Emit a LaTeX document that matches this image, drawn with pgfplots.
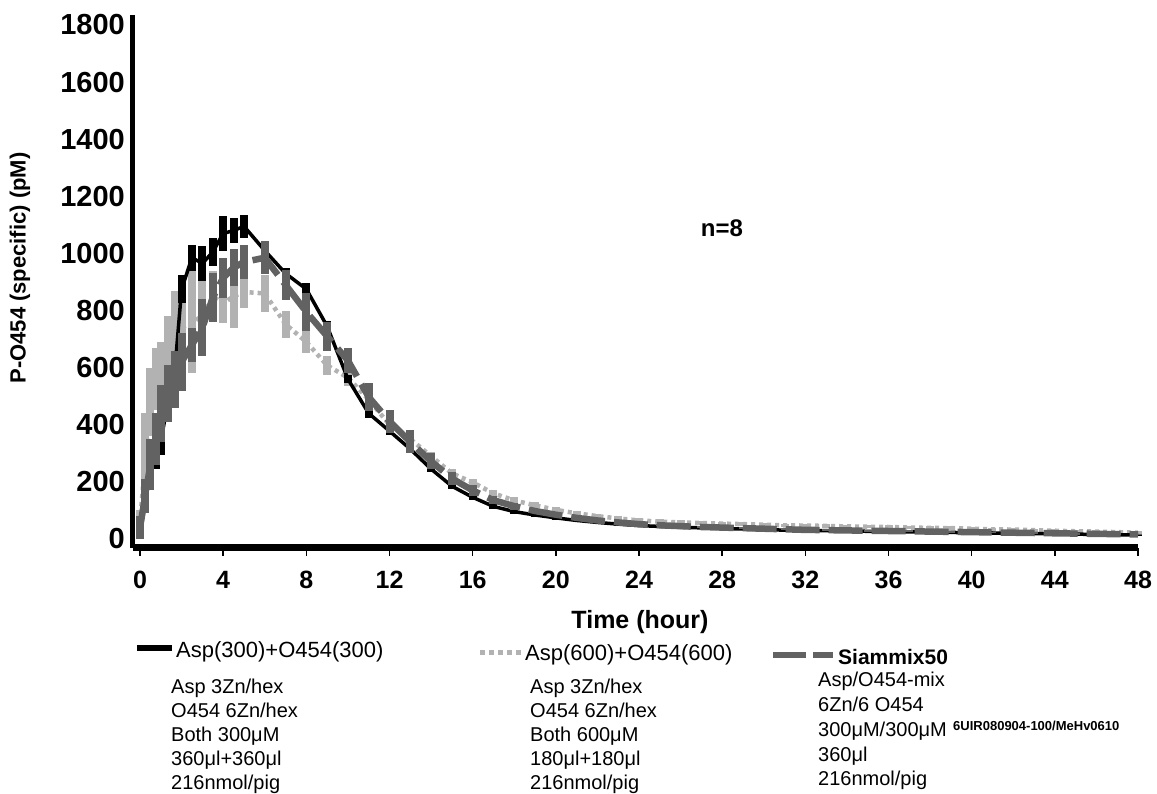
\documentclass[border=0pt]{standalone}
\usepackage{pgfplots}
\pgfplotsset{compat=1.18}
\usepackage{pgfplotstable}
\usepackage{fontspec}
\setmainfont{Liberation Sans}
\definecolor{lgray}{RGB}{178,178,178}
\definecolor{dgray}{RGB}{98,98,98}

\pgfplotstableread{
t y e
0 15 10
0.25 130 20
0.5 230 35
0.75 290 45
1 340 45
1.33 475 35
1.67 585 40
2 875 50
2.5 985 45
3 965 60
3.5 1005 50
4 1070 60
4.5 1080 45
5 1095 40
6 1010 30
7 930 20
8 875 20
9 745 20
10 560 15
11 440 15
12 378 15
13 315 15
14 245 12
15 185 10
16 146 10
17 114 8
18 96 8
19 84 6
20 74 6
21 65 5
22 58 5
23 52 5
24 47 5
25 44 4
26 41 4
27 39 4
28 37 4
29 35 4
30 33 4
31 31 3
32 30 3
33 29 3
34 28 3
35 27 3
36 26 3
37 25 3
38 24 3
39 23 3
40 22 3
41 21 3
42 20 3
43 19 3
44 18 3
45 17 3
46 16 3
47 15 3
48 14 3
}\blackdata

\pgfplotstableread{
t y e
0 60 40
0.25 270 170
0.5 480 120
0.75 560 110
1 590 100
1.33 670 110
1.67 765 105
2 740 120
2.5 760 180
3 780 140
3.5 850 90
4 825 70
4.5 850 110
5 865 55
6 860 65
7 752 48
8 690 40
9 608 32
10 565 30
11 488 42
12 400 20
13 350 18
14 290 15
15 230 14
16 198 12
17 160 12
18 135 12
19 118 10
20 102 10
21 90 9
22 80 9
23 72 8
24 65 8
25 61 8
26 58 7
27 56 7
28 54 7
29 52 7
30 50 7
31 48 6
32 47 6
33 46 6
34 44 6
35 43 6
36 42 6
37 40 6
38 39 6
39 38 6
40 36 5
41 34 5
42 33 5
43 31 5
44 29 5
45 27 5
46 26 5
47 24 5
48 22 5
}\lightdata

\pgfplotstableread{
t y e
0 40 40
0.25 150 60
0.5 260 90
0.75 350 90
1 440 100
1.33 510 100
1.67 560 100
2 620 100
2.5 680 60
3 740 100
3.5 845 85
4 915 70
4.5 950 65
5 970 58
6 985 58
7 890 52
8 795 65
9 710 50
10 625 45
11 497 48
12 412 40
13 340 40
14 272 28
15 212 22
16 170 18
17 136 15
18 115 12
19 98 8
20 85 6
21 74 5
22 65 4
23 58 4
24 52 4
25 48 3
26 45 3
27 42 3
28 40 3
29 38 3
30 36 3
31 34 3
32 32 3
33 31 3
34 30 3
35 29 3
36 28 3
37 27 3
38 26 3
39 25 3
40 24 3
41 23 3
42 22 3
43 21 3
44 20 3
45 19 3
46 18 3
47 17 3
48 16 3
}\darkdata

\begin{document}
\begin{tikzpicture}
\useasboundingbox (-133pt,-246pt) rectangle (1024pt,548pt);
\begin{axis}[
  at={(0pt,0pt)}, anchor=south west,
  scale only axis, width=1005pt, height=533pt,
  xmin=-0.337, xmax=48, ymin=-31.5, ymax=1835,
  axis x line*=bottom, axis y line*=left,
  x axis line style={line width=7pt, line cap=butt},
  y axis line style={line width=5pt, line cap=butt},
  xtick={0,4,...,48}, ytick={0,200,...,1800},
  tick align=outside, major tick length=8pt,
  xtick style={line width=1.5pt, black},
  ytick style={draw=none},
  xticklabel style={font=\fontsize{25}{30}\selectfont\bfseries, inner sep=0pt, yshift=-15pt},
  yticklabel style={font=\fontsize{29}{34}\selectfont\bfseries, inner sep=0pt},
  /pgf/number format/assume math mode=true,
  /pgf/number format/1000 sep={},
  clip=false,
]
\addplot[lgray, line width=4.5pt, dash pattern=on 4pt off 4pt,
  error bars/.cd, y dir=both, y explicit, error mark=none,
  error bar style={solid, line width=8pt, lgray}]
  table[x=t, y=y, y error=e] {\lightdata};
\addplot[black, line width=3.5pt,
  error bars/.cd, y dir=both, y explicit, error mark=none,
  error bar style={solid, line width=8pt, black}]
  table[x=t, y=y, y error=e] {\blackdata};
\addplot[dgray, line width=6.5pt, dash pattern=on 34pt off 9pt,
  error bars/.cd, y dir=both, y explicit, error mark=none,
  error bar style={solid, line width=8pt, dgray}]
  table[x=t, y=y, y error=e] {\darkdata};
\end{axis}

% axis labels and annotation
\node[rotate=90, font=\fontsize{22}{26}\selectfont\bfseries] at (-113pt,280pt) {P-O454 (specific) (pM)};
\node[font=\fontsize{25}{30}\selectfont\bfseries] at (507pt,-74pt) {Time (hour)};
\node[font=\fontsize{24}{28}\selectfont\bfseries] at (589pt,320pt) {n=8};

% legend
\draw[black, line width=6pt] (4pt,-100pt) -- (39pt,-100pt);
\node[anchor=base west, inner sep=0pt, font=\fontsize{22}{26}\selectfont] at (43pt,-110pt) {Asp(300)+O454(300)};
\draw[lgray, line width=5pt, dash pattern=on 5pt off 4pt] (347pt,-105pt) -- (389pt,-105pt);
\node[anchor=base west, inner sep=0pt, font=\fontsize{22}{26}\selectfont] at (392pt,-113pt) {Asp(600)+O454(600)};
\draw[dgray, line width=6pt, dash pattern=on 33pt off 7pt] (640pt,-107pt) -- (700pt,-107pt);
\node[anchor=base west, inner sep=0pt, font=\fontsize{21}{25}\selectfont\bfseries] at (705pt,-117pt) {Siammix50};

\begin{scope}[every node/.style={anchor=base west, inner sep=0pt, font=\fontsize{20}{24}\selectfont}]
\node at (38pt,-146pt) {Asp 3Zn/hex};
\node at (38pt,-170pt) {O454 6Zn/hex};
\node at (38pt,-194pt) {Both 300μM};
\node at (38pt,-218pt) {360μl+360μl};
\node at (38pt,-242pt) {216nmol/pig};
\node at (397pt,-146pt) {Asp 3Zn/hex};
\node at (397pt,-170pt) {O454 6Zn/hex};
\node at (397pt,-194pt) {Both 600μM};
\node at (397pt,-218pt) {180μl+180μl};
\node at (397pt,-242pt) {216nmol/pig};
\node at (685pt,-139pt) {Asp/O454-mix};
\node at (685pt,-164pt) {6Zn/6 O454};
\node at (685pt,-189pt) {300μM/300μM};
\node at (685pt,-214pt) {360μl};
\node at (685pt,-238pt) {216nmol/pig};
\end{scope}
\node[anchor=base west, inner sep=0pt, font=\fontsize{13}{15}\selectfont\bfseries] at (820pt,-183pt) {6UIR080904-100/MeHv0610};
\end{tikzpicture}
\end{document}
